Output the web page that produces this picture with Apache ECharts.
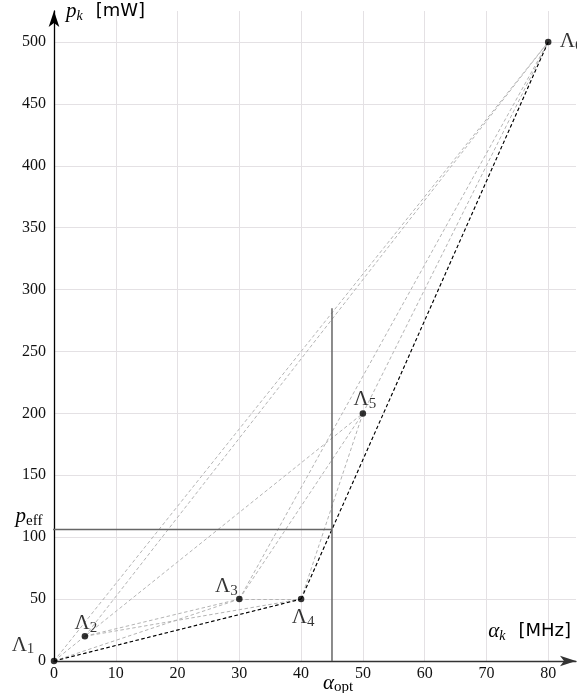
<!DOCTYPE html>
<html>
<head>
<meta charset="utf-8">
<script src="https://cdn.jsdelivr.net/npm/echarts@6/dist/echarts.min.js"></script>
<style>
  html, body { margin: 0; padding: 0; background: #fff; }
  #chart { width: 577px; height: 693px; }
</style>
</head>
<body>
<div id="chart"></div>
<script>
// Operating points: clock rate alpha_k [MHz] and power p_k [mW]
const pointNames = ['1', '2', '3', '4', '5', '6'];
const alphaValues = [0, 5, 30, 40, 50, 80];
const powerValues = [0, 20, 50, 50, 200, 500];
// Indices of the points on the lower convex hull
const hullIndices = [0, 3, 5];
// Optimal operating frequency and the resulting effective power
const alphaOpt = 45;
const pEff = 106.25;
const optLineTop = 285;
const xTicks = [0, 10, 20, 30, 40, 50, 60, 70, 80];
const yTicks = [0, 50, 100, 150, 200, 250, 300, 350, 400, 450, 500];

const SERIF = '"Liberation Serif", "DejaVu Serif", serif';
const SANS = '"DejaVu Sans", sans-serif';

// Label placement per point (pixel offsets from the marker)
const labelOffsets = [[-31, -16], [1, -13], [-13, -13], [2, 18], [2, -14], [23, 0]];

const points = alphaValues.map((a, i) => [a, powerValues[i]]);

// True when segment (c,d) lies inside segment (a,b)
function inside(a, b, c, d) {
  const cross = (p) => (b[0] - a[0]) * (p[1] - a[1]) - (b[1] - a[1]) * (p[0] - a[0]);
  if (Math.abs(cross(c)) > 1e-9 || Math.abs(cross(d)) > 1e-9) return false;
  const within = (p) => p[0] >= Math.min(a[0], b[0]) && p[0] <= Math.max(a[0], b[0]);
  return within(c) && within(d);
}

// Every pair of points, dashed grey (a segment already covered by a longer collinear one is skipped)
const pairs = [];
for (let i = 0; i < points.length; i++) {
  for (let j = i + 1; j < points.length; j++) pairs.push([points[i], points[j]]);
}
const segLen = (s) => Math.hypot(s[1][0] - s[0][0], s[1][1] - s[0][1]);
const pairLines = pairs
  .filter((s, k) => !pairs.some((t, m) => m !== k && segLen(t) > segLen(s) && inside(t[0], t[1], s[0], s[1])))
  .map(s => ({ coords: s }));

// Convex hull segments, dashed black
const hullLines = [];
for (let k = 0; k + 1 < hullIndices.length; k++) {
  hullLines.push({ coords: [points[hullIndices[k]], points[hullIndices[k + 1]]] });
}

const lambdaRich = {
  L: { fontFamily: SERIF, fontSize: 21, color: '#000', verticalAlign: 'middle', lineHeight: 24 },
  s: { fontFamily: SERIF, fontSize: 15, color: '#000', verticalAlign: 'bottom', lineHeight: 15 }
};

const chart = echarts.init(document.getElementById('chart'), null, { renderer: 'canvas' });

const option = {
  animation: false,
  backgroundColor: '#fff',
  grid: { left: 54, right: 1, top: 11, bottom: 32, containLabel: false },
  xAxis: {
    type: 'value', min: 0, max: 84.5, interval: 10,
    axisLine: { show: true, lineStyle: { color: '#333', width: 1.3 }, symbol: ['none', 'arrow'], symbolSize: [8, 16], symbolOffset: [0, 0] },
    axisTick: { show: false },
    splitLine: { show: true, showMaxLine: false, lineStyle: { color: '#e4e1e4', width: 1 } },
    axisLabel: {
      fontFamily: SERIF, fontSize: 16, color: '#111', margin: 5,
      showMaxLabel: false,
      formatter: v => (xTicks.includes(v) ? String(v) : '')
    }
  },
  yAxis: {
    type: 'value', min: 0, max: 525, interval: 50,
    axisLine: { show: true, lineStyle: { color: '#000', width: 1.3 }, symbol: ['none', 'arrow'], symbolSize: [8, 16], symbolOffset: [0, 0] },
    axisTick: { show: false },
    splitLine: { show: true, showMaxLine: false, lineStyle: { color: '#e4e1e4', width: 1 } },
    axisLabel: {
      fontFamily: SERIF, fontSize: 16, color: '#111', margin: 8,
      showMaxLabel: false,
      formatter: v => (yTicks.includes(v) ? String(v) : '')
    }
  },
  series: [
    {
      type: 'lines', coordinateSystem: 'cartesian2d', silent: true, z: 2,
      lineStyle: { color: '#b4b4b4', width: 1, type: [3.5, 2.5], opacity: 1 },
      data: pairLines
    },
    {
      type: 'lines', coordinateSystem: 'cartesian2d', silent: true, z: 3,
      lineStyle: { color: '#000', width: 1.1, type: [3.5, 2.5], opacity: 1 },
      data: hullLines
    },
    {
      type: 'line', silent: true, symbol: 'none', clip: false, z: 4,
      lineStyle: { color: '#666', width: 1.5 },
      data: [[alphaOpt, 0], [alphaOpt, optLineTop]]
    },
    {
      type: 'line', silent: true, symbol: 'none', clip: false, z: 4,
      lineStyle: { color: '#666', width: 1.5 },
      data: [[-1, pEff], [alphaOpt, pEff]]
    },
    {
      type: 'scatter', silent: true, z: 5, symbol: 'circle', symbolSize: 6.5,
      itemStyle: { color: '#000' },
      data: points.map((p, i) => ({
        value: p,
        label: {
          show: true, position: 'inside', offset: labelOffsets[i],
          formatter: '{L|Λ}{s|' + pointNames[i] + '}',
          rich: lambdaRich
        }
      }))
    }
  ]
};
chart.setOption(option);

// Axis titles and the optimum annotations
const optPx = chart.convertToPixel({ gridIndex: 0 }, [alphaOpt, pEff]);
const zeroPx = chart.convertToPixel({ gridIndex: 0 }, [0, 0]);
const mathRich = {
  v: { fontFamily: SERIF, fontStyle: 'italic', fontSize: 21, color: '#000', verticalAlign: 'middle', lineHeight: 24 },
  s: { fontFamily: SERIF, fontStyle: 'italic', fontSize: 14, color: '#000', verticalAlign: 'bottom', lineHeight: 15 },
  r: { fontFamily: SERIF, fontSize: 15, color: '#000', verticalAlign: 'bottom', lineHeight: 15 },
  u: { fontFamily: SANS, fontSize: 18, color: '#000', verticalAlign: 'middle', lineHeight: 24, padding: [0, 0, 0, 13] }
};
chart.setOption({
  graphic: [
    { type: 'text', left: 66, top: 1, silent: true,
      style: { text: '{v|p}{s|k}{u|[mW]}', rich: mathRich } },
    { type: 'text', right: 6, top: 621, silent: true,
      style: { text: '{v|α}{s|k}{u|[MHz]}', rich: mathRich } },
    { type: 'text', x: optPx[0] + 6, y: zeroPx[1] + 22, silent: true,
      style: { text: '{v|α}{r|opt}', rich: mathRich, align: 'center', verticalAlign: 'middle' } },
    { type: 'text', x: 29, y: optPx[1] - 13, silent: true,
      style: { text: '{v|p}{r|eff}', rich: mathRich, align: 'center', verticalAlign: 'middle' } }
  ]
});
</script>
</body>
</html>
